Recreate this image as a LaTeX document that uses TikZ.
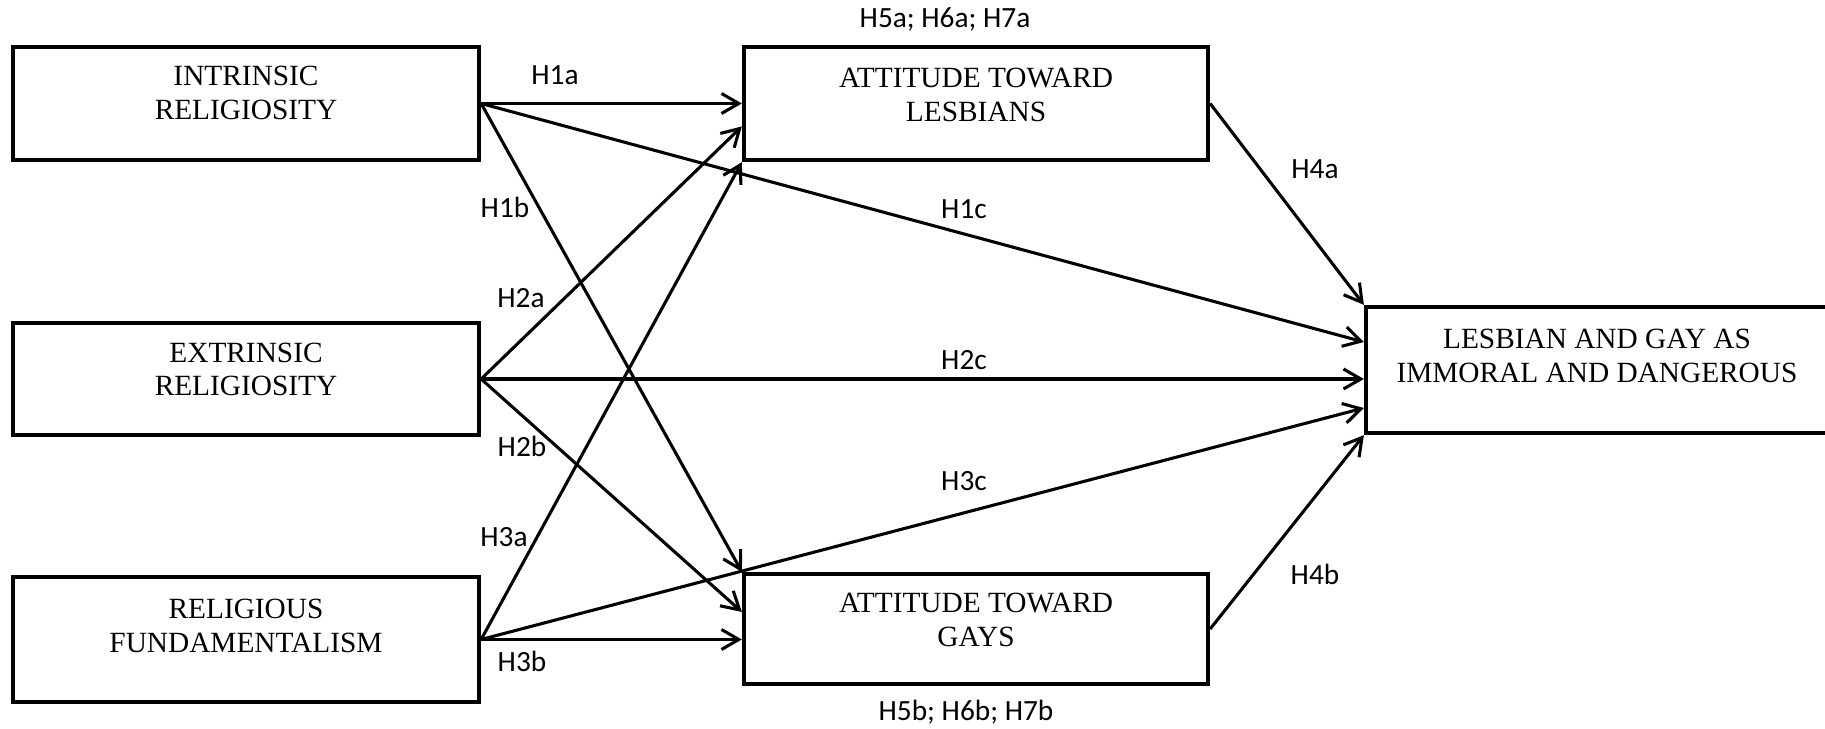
\documentclass[tikz,border=0pt]{standalone}
\usepackage{fontspec}
\setmainfont{Liberation Serif}
\newfontfamily\hypfont{Carlito}
\usetikzlibrary{arrows.meta}

\tikzset{
    var/.style={draw, rectangle, line width=1.6pt, inner sep=0pt},
    vartext/.style={align=center, inner sep=0pt, font=\rmfamily\fontsize{11}{12.6}\selectfont},
    hyp/.style={anchor=base, inner sep=0pt, font=\hypfont\fontsize{11}{13}\selectfont},
    path/.style={-{Straight Barb[length=6.5pt,width=7.5pt]}, line width=1.15pt}
}

\begin{document}
\begin{tikzpicture}[x=0.375pt, y=-0.375pt]
        \useasboundingbox (0, 0) rectangle (1825, 729);

        % Religiosity boxes
        \node[var, minimum width=174.75pt, minimum height=42.4pt] (ir) at (246, 103.5) {};
        \node[var, minimum width=174.75pt, minimum height=42pt] (er) at (246, 379) {};
        \node[var, minimum width=174.75pt, minimum height=46.9pt] (rf) at (246, 639.5) {};
        \node[vartext] (irtxt) at (246, 93) {INTRINSIC\\RELIGIOSITY};
        \node[vartext] (ertxt) at (246, 369.5) {EXTRINSIC\\RELIGIOSITY};
        \node[vartext] (rftxt) at (246, 626) {RELIGIOUS\\FUNDAMENTALISM};

        % Attitude boxes
        \node[var, minimum width=174pt, minimum height=42.4pt] (atl) at (976, 103.5) {};
        \node[var, minimum width=174pt, minimum height=41.25pt] (atg) at (976, 629) {};
        \node[vartext] (atltxt) at (976, 95) {ATTITUDE TOWARD\\LESBIANS};
        \node[vartext] (atgtxt) at (976, 620) {ATTITUDE TOWARD\\GAYS};

        % Outcome box
        \node[var, minimum width=173.6pt, minimum height=47.25pt] (lg) at (1597.5, 370) {};
        \node[vartext] (lgtxt) at (1597, 356) {LESBIAN AND GAY AS\\IMMORAL AND DANGEROUS};

        % Paths to attitudes
        \draw[path] (ir.east) -- (ir.east -| atl.west);  % H1a
        \draw[path] (er.east) -- ([yshift=-8.6pt]atl.west);  % H2a
        \draw[path] (rf.east) -- (atl.south west);  % H3a
        \draw[path] (ir.east) -- (atg.north west);  % H1b
        \draw[path] (er.east) -- ([yshift=6.4pt]atg.west);  % H2b
        \draw[path] (rf.east) -- (rf.east -| atg.west);  % H3b

        % Paths to outcome
        \draw[path] (ir.east) -- ([yshift=10.5pt]lg.west);  % H1c
        \draw[path] (er.east) -- (er.east -| lg.west);  % H2c
        \draw[path] (rf.east) -- ([yshift=-14.25pt]lg.west);  % H3c
        \draw[path] (atl.east) -- (lg.north west);  % H4a
        \draw[path] (atg.east) -- (lg.south west);  % H4b

        % Hypothesis labels
        \node[hyp] (h1a) at (555, 85) {H1a};
        \node[hyp] (h1b) at (505, 218) {H1b};
        \node[hyp] (h1c) at (964, 219) {H1c};
        \node[hyp] (h2a) at (521, 308) {H2a};
        \node[hyp] (h2b) at (522, 457) {H2b};
        \node[hyp] (h2c) at (964, 370) {H2c};
        \node[hyp] (h3a) at (504, 547) {H3a};
        \node[hyp] (h3b) at (522, 672) {H3b};
        \node[hyp] (h3c) at (964, 491) {H3c};
        \node[hyp] (h4a) at (1315, 179) {H4a};
        \node[hyp] (h4b) at (1315, 585) {H4b};
        \node[hyp] (h5a) at (945, 28) {H5a; H6a; H7a};
        \node[hyp] (h5b) at (966, 721) {H5b; H6b; H7b};
\end{tikzpicture}
\end{document}
